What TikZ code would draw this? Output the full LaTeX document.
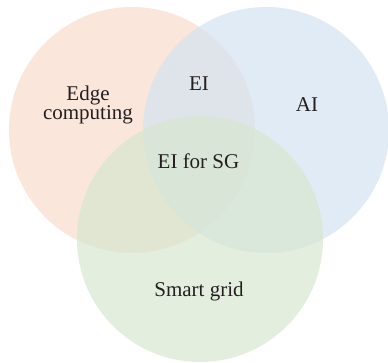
\documentclass[tikz,border=0pt]{standalone}
\usepackage{fontspec}
\setmainfont{Liberation Serif}
\definecolor{corange}{RGB}{248,219,202}
\definecolor{cblue}{RGB}{212,226,241}
\definecolor{cgreen}{RGB}{215,231,208}
\definecolor{ctext}{RGB}{35,31,32}
\begin{document}
\begin{tikzpicture}[x=1pt,y=-1pt,
  setcircle/.style={fill opacity=0.7, draw=none},
  lbl/.style={font=\fontsize{21}{20}\selectfont, text=ctext, inner sep=0pt, anchor=base, align=center}]
\useasboundingbox (0,0) rectangle (388,362);
\fill[setcircle, fill=corange] (132,130) circle (123);
\fill[setcircle, fill=cblue] (266,130) circle (123);
\fill[setcircle, fill=cgreen] (200,239) circle (123);
\node[lbl] (edge) at (88,100) {Edge};
\node[lbl] (comp) at (88,119.5) {computing};
\node[lbl] (ei) at (199,90.7) {EI};
\node[lbl] (ai) at (307,111) {AI};
\node[lbl] (eisg) at (198.5,168.3) {EI for SG};
\node[lbl] (sg) at (199,296.7) {Smart grid};
\end{tikzpicture}
\end{document}
